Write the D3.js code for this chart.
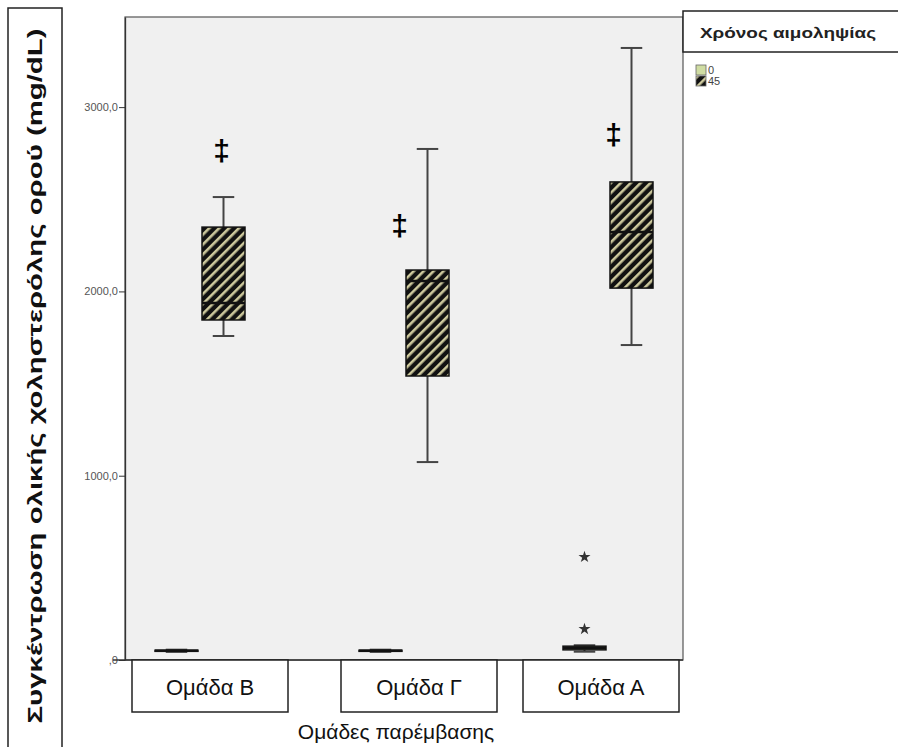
<!DOCTYPE html>
<html>
<head>
<meta charset="utf-8">
<script src="https://cdn.jsdelivr.net/npm/d3@7"></script>
<style>
  body { margin: 0; background: #fff; }
  text { font-family: "Liberation Sans", Arial, sans-serif; }
</style>
</head>
<body>
<script>
//chart data
var groups = ["Ομάδα Β", "Ομάδα Γ", "Ομάδα Α"];
var times = ["0", "45"];
//low whisker, q1, median, q3, high whisker
var boxes0 = [[44, 47, 50, 53, 56], [44, 47, 50, 53, 56], [45, 55, 65, 75, 80]];
var boxes45 = [[1758, 1845, 1937, 2349, 2512], [1074, 1541, 2056, 2116, 2773], [1709, 2018, 2322, 2594, 3321]];
//extreme values (stars), group A time 0
var extremesA0 = [168, 559];
//significance marks (‡) above the 45 boxes
var daggerValues = [2767, 2355, 2849];
var yTicks = [0, 1000, 2000, 3000];

window.onload = draw();

function draw() {
    var width = 898, height = 747;
    var plot = {left: 125, right: 683, top: 17, bottom: 660};

    var svg = d3.select("body").append("svg")
        .attr("width", width)
        .attr("height", height);

    //hatching for the 45 series
    var defs = svg.append("defs");
    var pat = defs.append("pattern")
        .attr("id", "hatch")
        .attr("patternUnits", "userSpaceOnUse")
        .attr("width", 7).attr("height", 7)
        .attr("patternTransform", "rotate(45)");
    pat.append("rect").attr("width", 7).attr("height", 7).attr("fill", "#111");
    pat.append("rect").attr("x", 0).attr("width", 2.6).attr("height", 7).attr("fill", "#cdc99d");

    //scales
    var y = d3.scaleLinear().domain([0, 3489]).range([plot.bottom, plot.top]);
    var x = d3.scaleBand().domain(groups).range([98, 710]);
    var xIn = d3.scalePoint().domain(times).range([-23.5, 23.5]);
    var boxW = 43;

    //plot background
    svg.append("rect")
        .attr("x", plot.left).attr("y", plot.top)
        .attr("width", plot.right - plot.left).attr("height", plot.bottom - plot.top)
        .attr("fill", "#f0f0f0").attr("stroke", "#555").attr("stroke-width", 1.2);

    //y axis
    var yAxis = d3.axisLeft(y)
        .tickValues(yTicks)
        .tickSize(6)
        .tickSizeOuter(0)
        .tickFormat(function(v) { return v === 0 ? ",0" : v.toFixed(1).replace(".", ","); });
    var ya = svg.append("g")
        .attr("transform", "translate(" + plot.left + ",0)")
        .call(yAxis);
    ya.select(".domain").attr("stroke", "#333").attr("stroke-width", 1.3);
    ya.selectAll(".tick line").attr("stroke", "#333");
    ya.selectAll(".tick text").attr("fill", "#555").attr("font-size", 11).attr("x", -7);

    //bottom axis line
    svg.append("line")
        .attr("x1", plot.left - 12).attr("x2", plot.right)
        .attr("y1", plot.bottom).attr("y2", plot.bottom)
        .attr("stroke", "#333").attr("stroke-width", 1.3);

    //box plots
    function drawBox(stats, gi, ti, fill) {
        var cx = x(groups[gi]) + x.bandwidth() / 2 + xIn(times[ti]);
        var g = svg.append("g");
        var capW = boxW / 2;
        g.append("line")
            .attr("x1", cx).attr("x2", cx)
            .attr("y1", y(stats[0])).attr("y2", y(stats[4]))
            .attr("stroke", "#444").attr("stroke-width", 2);
        [stats[0], stats[4]].forEach(function(v) {
            g.append("line")
                .attr("x1", cx - capW / 2).attr("x2", cx + capW / 2)
                .attr("y1", y(v)).attr("y2", y(v))
                .attr("stroke", "#444").attr("stroke-width", 2);
        });
        g.append("rect")
            .attr("x", cx - boxW / 2).attr("width", boxW)
            .attr("y", y(stats[3])).attr("height", Math.max(y(stats[1]) - y(stats[3]), 1))
            .attr("fill", fill).attr("stroke", "#111").attr("stroke-width", 1.5);
        g.append("line")
            .attr("x1", cx - boxW / 2).attr("x2", cx + boxW / 2)
            .attr("y1", y(stats[2])).attr("y2", y(stats[2]))
            .attr("stroke", "#111").attr("stroke-width", 2.5);
    }
    boxes0.forEach(function(s, i) { drawBox(s, i, 0, "#cfdca2"); });
    boxes45.forEach(function(s, i) { drawBox(s, i, 1, "url(#hatch)"); });

    //extreme values
    var star = d3.symbol().type(d3.symbolStar).size(45);
    svg.selectAll(".extreme")
        .data(extremesA0)
        .enter()
        .append("path")
        .attr("class", "extreme")
        .attr("d", star)
        .attr("fill", "#333")
        .attr("transform", function(d) {
            return "translate(" + (x(groups[2]) + x.bandwidth() / 2 + xIn("0")) + "," + y(d) + ")";
        });

    //significance marks
    var daggerDx = [-2, -28, -18];
    svg.selectAll(".dagger")
        .data(daggerValues)
        .enter()
        .append("text")
        .attr("class", "dagger")
        .attr("x", function(d, i) { return x(groups[i]) + x.bandwidth() / 2 + xIn("45") + daggerDx[i]; })
        .attr("y", function(d) { return y(d); })
        .attr("dy", "0.35em")
        .attr("text-anchor", "middle")
        .attr("font-size", 30)
        .attr("font-weight", "bold")
        .attr("fill", "#000")
        .text("‡");

    //category label boxes
    var labelShift = [10, 15, -7];
    var labels = svg.selectAll(".cat")
        .data(groups)
        .enter()
        .append("g")
        .attr("class", "cat")
        .attr("transform", function(d, i) {
            return "translate(" + (x(d) + x.bandwidth() / 2 + labelShift[i]) + ",0)";
        });
    labels.append("rect")
        .attr("x", -78).attr("width", 156)
        .attr("y", 660).attr("height", 52)
        .attr("fill", "#fff").attr("stroke", "#222").attr("stroke-width", 1.5);
    labels.append("text")
        .attr("y", 695)
        .attr("text-anchor", "middle")
        .attr("font-size", 22)
        .attr("fill", "#111")
        .text(function(d) { return d; });

    //x title
    svg.append("text")
        .attr("x", 396).attr("y", 739)
        .attr("text-anchor", "middle")
        .attr("font-size", 21)
        .attr("fill", "#111")
        .text("Ομάδες παρέμβασης");

    //y title box
    svg.append("rect")
        .attr("x", 8).attr("y", 8).attr("width", 54).attr("height", 760)
        .attr("fill", "#fff").attr("stroke", "#222").attr("stroke-width", 1.5);
    svg.append("text")
        .attr("transform", "translate(42,376) rotate(-90)")
        .attr("text-anchor", "middle")
        .attr("font-size", 20)
        .attr("font-weight", "bold")
        .attr("fill", "#111")
        .attr("textLength", 695)
        .attr("lengthAdjust", "spacingAndGlyphs")
        .text("Συγκέντρωση ολικής χοληστερόλης ορού (mg/dL)");

    //legend
    var lg = svg.append("g");
    lg.append("rect")
        .attr("x", 683).attr("y", 11).attr("width", 222).attr("height", 41)
        .attr("fill", "#fff").attr("stroke", "#222").attr("stroke-width", 1.5);
    lg.append("text")
        .attr("x", 700).attr("y", 38)
        .attr("font-size", 14)
        .attr("font-weight", "bold")
        .attr("fill", "#222")
        .attr("textLength", 176)
        .attr("lengthAdjust", "spacingAndGlyphs")
        .text("Χρόνος αιμοληψίας");
    var items = lg.selectAll(".item")
        .data(times)
        .enter()
        .append("g")
        .attr("class", "item")
        .attr("transform", function(d, i) { return "translate(696," + (65 + i * 11) + ")"; });
    items.append("rect")
        .attr("width", 10).attr("height", 10)
        .attr("fill", function(d, i) { return i === 0 ? "#cfdca2" : "url(#hatch)"; })
        .attr("stroke", "#666").attr("stroke-width", 0.8);
    items.append("text")
        .attr("x", 12).attr("y", 9)
        .attr("font-size", 11)
        .attr("fill", "#444")
        .text(function(d) { return d; });
}
</script>
</body>
</html>
